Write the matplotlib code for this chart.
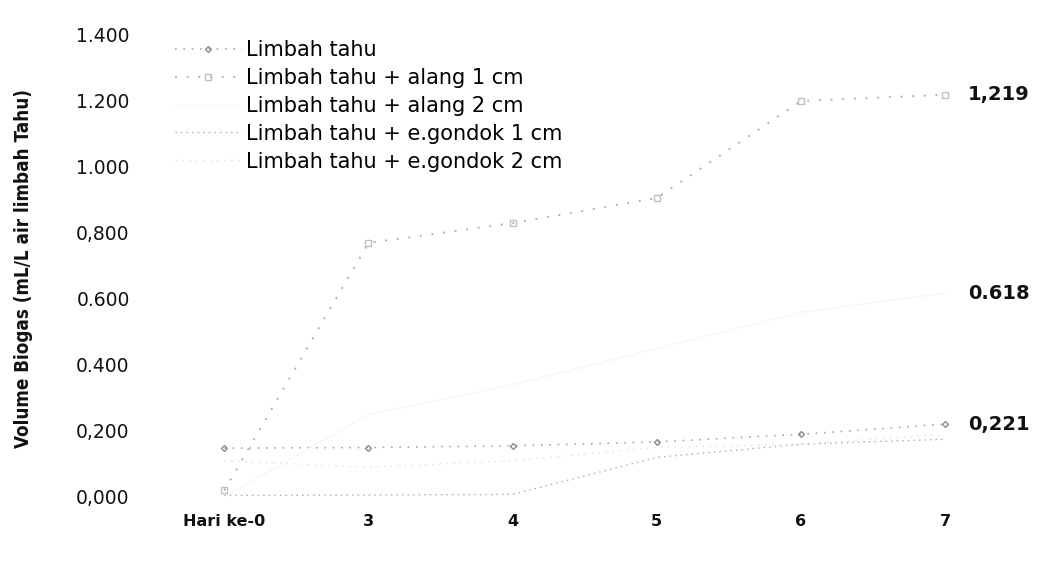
import matplotlib
matplotlib.use('Agg')
import matplotlib.pyplot as plt
import matplotlib.ticker as tick

# hari pengamatan dan volume biogas (mL/L air limbah tahu)
hari = ['Hari ke-0', '3', '4', '5', '6', '7']
seri = [
    'Limbah tahu',
    'Limbah tahu + alang 1 cm',
    'Limbah tahu + alang 2 cm',
    'Limbah tahu + e.gondok 1 cm',
    'Limbah tahu + e.gondok 2 cm',
]
limbah_tahu = [0.148, 0.150, 0.155, 0.167, 0.190, 0.221]
alang_1cm = [0.020, 0.770, 0.830, 0.906, 1.200, 1.219]
alang_2cm = [0.000, 0.250, 0.340, 0.450, 0.560, 0.618]
gondok_1cm = [0.005, 0.006, 0.008, 0.120, 0.160, 0.175]
gondok_2cm = [0.110, 0.090, 0.110, 0.150, 0.160, 0.190]
ujung_label = ['1,219', '0.618', '0,221']

y_ticks = [0.0, 0.2, 0.4, 0.6, 0.8, 1.0, 1.2, 1.4]
y_ticklabels = ['0,000', '0,200', '0.400', '0.600', '0,800', '1.000', '1.200', '1.400']

W, H = 1038, 584
fig = plt.figure(figsize=(W / 100, H / 100), dpi=100)
ax = fig.add_axes([145 / W, (H - 497) / H, 855 / W, 462 / H])

x = list(range(len(hari)))
styles = [
    dict(color='#a8a8a8', ls=(0, (1, 4)), lw=1.2, marker='D', ms=3, mfc='none', mec='#8a8a8a'),
    dict(color='#b0b0b0', ls=(0, (1, 5)), lw=1.4, marker='s', ms=4, mfc='none', mec='#c0c0c0'),
    dict(color='#f6f6f6', ls='-', lw=1.0),
    dict(color='#aaaaaa', ls=(0, (1, 3)), lw=1.0),
    dict(color='#dedede', ls=(0, (1, 4)), lw=1.0),
]
data = [limbah_tahu, alang_1cm, alang_2cm, gondok_1cm, gondok_2cm]
for vals, name, st in zip(data, seri, styles):
    ax.plot(x, vals, label=name, **st)

# label nilai pada hari terakhir
for vals, txt in zip([alang_1cm, alang_2cm, limbah_tahu], ujung_label):
    ax.annotate(txt, (x[-1], vals[-1]), xytext=(16.5, 0), textcoords='offset points',
                ha='left', va='center', fontsize=14, fontweight='bold',
                family='DejaVu Sans', color='#111111')

ax.set_xlim(-0.55, 5.38)
ax.set_ylim(0, 1.4)
ax.set_xticks(x)
ax.set_xticklabels(hari, fontsize=11.5, fontweight='bold', family='DejaVu Sans')
ax.set_yticks(y_ticks)
ax.yaxis.set_major_formatter(tick.FixedFormatter(y_ticklabels))
for lbl in ax.get_yticklabels():
    lbl.set_fontsize(13.5)
    lbl.set_family('DejaVu Sans')
ax.tick_params(axis='both', length=0, colors='#111111')
ax.tick_params(axis='y', pad=11)
ax.tick_params(axis='x', pad=12)
for s in ax.spines.values():
    s.set_visible(False)

fig.text(24 / W, 1 - 268 / H, 'Volume Biogas (mL/L air limbah Tahu)', rotation=90,
         ha='center', va='center', fontsize=13.5, fontweight='bold',
         fontstretch='condensed', family='DejaVu Sans', color='#111111')

fig.legend(loc='upper left', bbox_to_anchor=(175 / W, 1 - 40 / H), frameon=False,
           borderpad=0, borderaxespad=0, handlelength=3.2, handletextpad=0.2,
           labelspacing=0.38,
           prop={'family': 'DejaVu Sans', 'size': 15})

fig.savefig('out.png', dpi=100)
